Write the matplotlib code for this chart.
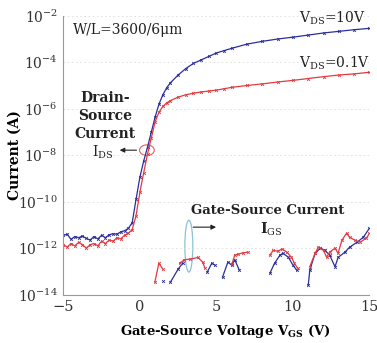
import numpy as np
import matplotlib
matplotlib.use('Agg')
import matplotlib.pyplot as plt
import matplotlib.ticker as ticker
from matplotlib.patches import Ellipse

plt.rcParams['font.family'] = 'DejaVu Serif'
plt.rcParams['mathtext.fontset'] = 'dejavuserif'

# drain-source current, log10(A)
vgs_ds = [-5, -4.75, -4.5, -4.25, -4, -3.75, -3.5, -3.25, -3, -2.75, -2.5, -2.25, -2, -1.75,
          -1.5, -1.25, -1, -0.75, -0.5, -0.25, 0, 0.25, 0.5, 0.75, 1.0, 1.25, 1.5, 1.75, 2.0,
          2.5, 3.0, 3.5, 4, 4.5, 5, 5.5, 6, 7, 8, 9, 10, 11, 12, 13, 14, 15]
ids_10v = [-11.45, -11.40, -11.62, -11.50, -11.55, -11.48, -11.58, -11.65, -11.50, -11.60,
           -11.45, -11.55, -11.42, -11.38, -11.40, -11.30, -11.25, -11.15, -10.90, -9.90,
           -8.95, -8.25, -7.65, -7.00, -6.35, -5.80, -5.40, -5.10, -4.88, -4.55, -4.27,
           -4.05, -3.90, -3.75, -3.60, -3.50, -3.40, -3.22, -3.10, -3.00, -2.92, -2.83,
           -2.74, -2.67, -2.60, -2.54]
ids_01v = [-11.85, -11.95, -11.80, -11.90, -11.75, -11.85, -12.00, -11.85, -11.80, -11.90,
           -11.70, -11.80, -11.65, -11.70, -11.55, -11.60, -11.45, -11.35, -11.20, -10.60,
           -9.60, -8.75, -7.95, -7.25, -6.55, -6.15, -5.90, -5.75, -5.65, -5.50, -5.40,
           -5.33, -5.28, -5.24, -5.20, -5.14, -5.08, -5.00, -4.93, -4.85, -4.78, -4.70,
           -4.62, -4.55, -4.50, -4.43]

# gate-source current, log10(A); nan = gap (negative current)
vgs_gs_10v = [1.5, np.nan, 2.0, 2.5, 2.8, np.nan, 4.4, 4.7, 4.9, np.nan, 5.4, 5.75, 6.0, 6.2,
              6.5, np.nan, 8.5, 8.8, 9.15, 9.35, 9.7, 10.0, 10.25, np.nan, 11.0, 11.1, 11.45,
              11.8, 12.1, 12.4, 12.75, 12.95, 13.4, 13.7, 14.2, 14.6, 15.0]
igs_10v = [-13.4, np.nan, -13.46, -12.9, -12.65, np.nan, -13.03, -12.65, -12.73, np.nan,
           -13.25, -12.6, -12.73, -12.5, -12.95, np.nan, -13.07, -12.65, -12.3, -12.22,
           -12.39, -12.73, -12.95, np.nan, -13.6, -12.95, -12.22, -12.0, -12.1, -12.3,
           -12.8, -12.4, -12.17, -11.96, -11.74, -11.53, -11.14]
vgs_gs_01v = [0.98, 1.24, 1.5, np.nan, 2.6, 2.9, 3.3, 3.8, 4.1, 4.25, np.nan, 6.0, 6.2, 6.4,
              6.75, 7.05, np.nan, 8.5, 8.7, 9.0, 9.3, 9.6, 9.9, 10.1, 10.3, np.nan, 11.1,
              11.45, 11.65, 12.0, 12.2, 12.4, 12.75, 12.95, 13.2, 13.5, 13.7, 14.05, 14.4,
              14.8, 15.0]
igs_01v = [-13.46, -12.65, -12.9, np.nan, -12.65, -12.5, -12.47, -12.4, -12.6, -12.86, np.nan,
           -12.7, -12.3, -12.26, -12.2, -12.17, np.nan, -12.3, -12.1, -12.13, -12.04, -12.17,
           -12.39, -12.65, -12.86, np.nan, -12.8, -12.22, -11.96, -12.1, -12.39, -12.17,
           -12.0, -12.22, -11.66, -11.36, -11.53, -11.66, -11.74, -11.57, -11.36]

blue = '#2a2f9c'
red = '#e23a3f'
txt = '#222222'

fig = plt.figure(figsize=(3.77, 3.43), dpi=100)
ax = fig.add_axes([0.168, 0.141, 0.812, 0.813])

kw = dict(linewidth=0.9, marker='x', markersize=2, markeredgewidth=0.6)
ax.plot(vgs_ds, 10 ** np.array(ids_10v), color=blue, **kw)
ax.plot(vgs_ds, 10 ** np.array(ids_01v), color=red, **kw)
ax.plot(vgs_gs_10v, 10 ** np.array(igs_10v), color=blue, **kw)
ax.plot(vgs_gs_01v, 10 ** np.array(igs_01v), color=red, **kw)

ax.set_yscale('log')
ax.set_xlim(-5, 15)
ax.set_ylim(1e-14, 1e-2)
ax.xaxis.set_major_locator(ticker.MultipleLocator(5))
ax.yaxis.set_major_locator(ticker.LogLocator(base=100, numticks=10))
ax.yaxis.set_minor_locator(ticker.NullLocator())
ax.yaxis.set_major_formatter(ticker.LogFormatterMathtext())
ax.tick_params(axis='both', length=0, pad=4, colors='#333333')
ax.tick_params(axis='x', labelsize=10.5)
ax.tick_params(axis='y', labelsize=10)
ax.grid(axis='y', which='major', linestyle=(0, (2, 3)), linewidth=0.6, color='#dddddd')
for s in ['top', 'right']:
    ax.spines[s].set_visible(False)
for s in ['left', 'bottom']:
    ax.spines[s].set_color('#999999')
    ax.spines[s].set_linewidth(0.8)

ax.set_xlabel(r'Gate-Source Voltage V$_{\mathbf{GS}}$ (V)', fontsize=9.5, fontweight='bold')
ax.xaxis.set_label_coords(0.53, -0.1)
ax.set_ylabel('Current (A)', fontsize=10, fontweight='bold')
ax.yaxis.set_label_coords(-0.135, 0.5)

ax.text(0.03, 0.95, 'W/L=3600/6μm', transform=ax.transAxes, fontsize=10, va='center',
        color=txt)
ax.text(0.77, 0.99, r'V$_{\rm DS}$=10V', transform=ax.transAxes, fontsize=10, va='center',
        color=txt)
ax.text(0.77, 0.83, r'V$_{\rm DS}$=0.1V', transform=ax.transAxes, fontsize=10, va='center',
        color=txt)
ax.text(0.135, 0.64, 'Drain-\nSource\nCurrent', transform=ax.transAxes, fontsize=10,
        fontweight='bold', ha='center', va='center', linespacing=1.35, color=txt)
ax.text(0.13, 0.51, r'I$_{\rm DS}$', transform=ax.transAxes, fontsize=10, ha='center',
        va='center', color=txt)
ax.text(0.668, 0.303, 'Gate-Source Current', transform=ax.transAxes, fontsize=9.5,
        fontweight='bold', ha='center', va='center', color=txt)
ax.text(0.68, 0.235, r'I$_{\rm GS}$', transform=ax.transAxes, fontsize=10, ha='center',
        va='center', fontweight='bold', color=txt)

ax.add_patch(Ellipse((0.273, 0.518), 0.048, 0.038, transform=ax.transAxes, fill=False,
                     edgecolor='#e06060', linewidth=0.8))
ax.annotate('', xy=(0.175, 0.518), xytext=(0.248, 0.518), xycoords='axes fraction',
            arrowprops=dict(arrowstyle='-|>', color=txt, lw=0.8, mutation_scale=7))
ax.add_patch(Ellipse((0.41, 0.174), 0.026, 0.186, transform=ax.transAxes, fill=False,
                     edgecolor='#8ec0d6', linewidth=0.9))
ax.annotate('', xy=(0.508, 0.242), xytext=(0.415, 0.242), xycoords='axes fraction',
            arrowprops=dict(arrowstyle='-|>', color=txt, lw=0.8, mutation_scale=7))

fig.savefig('out.png', dpi=100)
